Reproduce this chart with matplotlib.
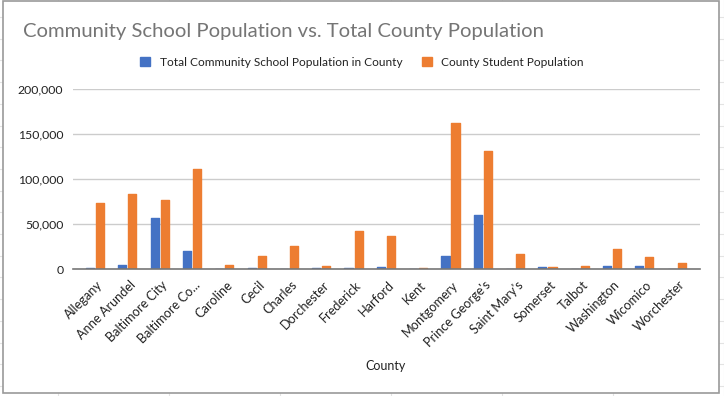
import matplotlib
matplotlib.use("Agg")
import matplotlib.pyplot as plt
import matplotlib.transforms as mtransforms
from matplotlib.patches import Rectangle
from matplotlib.lines import Line2D
import numpy as np

plt.rcParams['font.family'] = ['Lato', 'DejaVu Sans']

counties = ["Allegany", "Anne Arundel", "Baltimore City", "Baltimore Co...", "Caroline",
            "Cecil", "Charles", "Dorchester", "Frederick", "Harford", "Kent",
            "Montgomery", "Prince George's", "Saint Mary's", "Somerset", "Talbot",
            "Washington", "Wicomico", "Worchester"]
community_pop = [1500, 4800, 56700, 19600, 300, 1500, 300, 1500, 1500, 2600, 300,
                 14800, 60000, 300, 2200, 300, 3700, 3700, 300]
student_pop = [73300, 83300, 77000, 111000, 4800, 14800, 25900, 3700, 42600, 37000, 1500,
               162000, 130700, 17000, 2600, 3700, 22200, 13300, 6300]
series_names = ["Total Community School Population in County", "County Student Population"]
yticks = [0, 50000, 100000, 150000, 200000]

W, H = 724, 396
fig = plt.figure(figsize=(W / 100, H / 100), dpi=100)

# spreadsheet background grid
for k in range(20):
    y = 17 + 21.7 * k
    fig.add_artist(Line2D([0, 1], [1 - y / H, 1 - y / H], color="#e3e3e3", lw=0.8, zorder=0))
for k in range(7):
    x = 58 + 111 * k
    fig.add_artist(Line2D([x / W, x / W], [0, 1], color="#e3e3e3", lw=0.8, zorder=0))
# chart area
fig.add_artist(Rectangle((3 / W, 1 - 392.5 / H), 716 / W, 391.5 / H, facecolor="white",
                         edgecolor="#9a9a9a", lw=1.2, zorder=1))

ax = fig.add_axes([73 / W, 1 - 269 / H, 627 / W, 180 / H], zorder=2)
ax.patch.set_alpha(0)

x = np.arange(len(counties))
bw = 0.25
off = 0.155
b1 = ax.bar(x - off, community_pop, bw, color="#4472C4", edgecolor="#4472C4",
            linewidth=1.0, label=series_names[0], zorder=3)
b2 = ax.bar(x + off, student_pop, bw, color="#ED7D31", edgecolor="#ED7D31",
            linewidth=1.0, label=series_names[1], zorder=3)
for p in list(b1) + list(b2):
    p.set_joinstyle("round")

ax.set_xlim(-0.68, 18.72)
ax.set_ylim(0, 200000)
ax.set_yticks(yticks)
ax.set_yticklabels([f"{v:,}" for v in yticks], fontsize=8.8, color="#222222")
ax.yaxis.grid(True, color="#cccccc", lw=1.0, zorder=0)
ax.set_axisbelow(True)
for s in ["top", "right", "left"]:
    ax.spines[s].set_visible(False)
ax.spines["bottom"].set_color("#777777")
ax.spines["bottom"].set_linewidth(1.2)
ax.spines["bottom"].set_zorder(4)
ax.tick_params(axis="both", length=0)
ax.tick_params(axis="y", pad=7)

ax.set_xticks(x)
ax.set_xticklabels(counties, rotation=45, ha="right", va="center",
                   rotation_mode="anchor", fontsize=9.2, color="#222222")
offset = mtransforms.ScaledTranslation(6 / 100, -9 / 100, fig.dpi_scale_trans)
for lab in ax.get_xticklabels():
    lab.set_transform(lab.get_transform() + offset)

fig.text(23 / W, 1 - 32 / H, "Community School Population vs. Total County Population",
         fontsize=14.6, color="#757575", ha="left", va="center", zorder=3)
fig.text(386 / W, 1 - 366 / H, "County", fontsize=9, color="#222222",
         ha="center", va="center", zorder=3)

leg = fig.legend(handles=[b1, b2], labels=series_names, loc="center",
                 bbox_to_anchor=(362 / W, 1 - 62 / H), ncol=2, frameon=False,
                 fontsize=8.6, handlelength=0.85, handleheight=0.85,
                 columnspacing=1.6, handletextpad=0.8, labelcolor="#222222")
leg.set_zorder(3)

fig.savefig("out.png", dpi=100)
